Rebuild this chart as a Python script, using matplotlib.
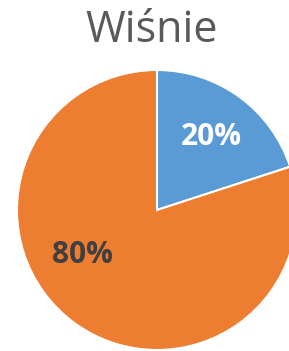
import matplotlib
matplotlib.use("Agg")
import matplotlib.pyplot as plt

# chart data
title = "Wiśnie"
categories = ["A", "B"]
shares = [20, 80]
colors = ["#5B9BD5", "#ED7D31"]
label_colors = ["white", "#404040"]

plt.rcParams['font.family'] = ['Open Sans', 'DejaVu Sans']

fig = plt.figure(figsize=(2.89, 3.51), dpi=100)
ax = fig.add_axes([0, 0, 1, 1])

R = 140.0  # pie radius in pixels
cx, cy = 157.0, 210.0  # pie centre (pixels from left / top)

wedges, texts = ax.pie(
    shares,
    colors=colors,
    startangle=90,
    counterclock=False,
    radius=1.0,
    wedgeprops=dict(edgecolor="white", linewidth=1.5),
)

# label positions (fraction of radius)
label_pos = [(0.39, 0.52), (-0.53, -0.32)]
for (x, y), v, c in zip(label_pos, shares, label_colors):
    ax.text(x, y, f"{v}%", ha="center", va="center", color=c,
            fontsize=21.5, fontweight="bold")

ax.set_xlim(-cx / R, (289 - cx) / R)
ax.set_ylim(-(351 - cy) / R, cy / R)
ax.set_aspect("auto")
ax.axis("off")

fig.text(152 / 289, 1 - 31 / 351, title, ha="center", va="center",
         fontsize=31, color="#595959")

fig.savefig("out.png", dpi=100)
